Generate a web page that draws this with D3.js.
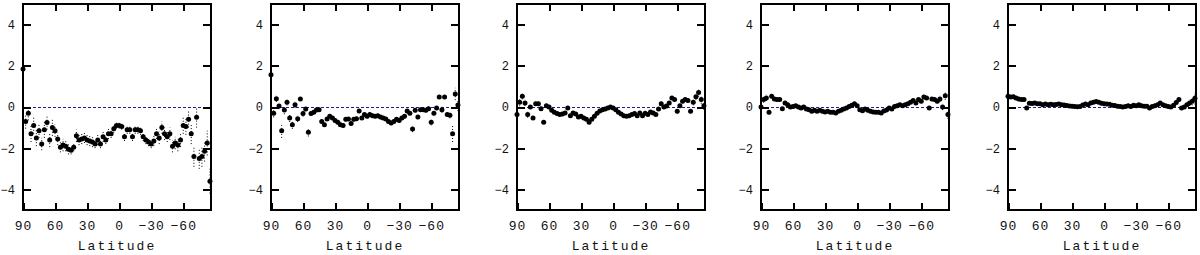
<!DOCTYPE html>
<html>
<head>
<meta charset="utf-8">
<script src="https://cdn.jsdelivr.net/npm/d3@7"></script>
<style>
  html, body { margin: 0; padding: 0; background: #fff; }
  svg { display: block; }
</style>
</head>
<body>
<svg id="chart" width="1200" height="255"></svg>
<script>
// ---------- DATA ----------
const latitudes = [
  90, 87.5, 85, 82.5, 80, 77.5, 75, 72.5, 70, 67.5,
  65, 62.5, 60, 57.5, 55, 52.5, 50, 47.5, 45, 42.5,
  40, 37.5, 35, 32.5, 30, 27.5, 25, 22.5, 20, 17.5,
  15, 12.5, 10, 7.5, 5, 2.5, 0, -2.5, -5, -7.5,
  -10, -12.5, -15, -17.5, -20, -22.5, -25, -27.5, -30, -32.5,
  -35, -37.5, -40, -42.5, -45, -47.5, -50, -52.5, -55, -57.5,
  -60, -62.5, -65, -67.5, -70, -72.5, -75, -77.5, -80, -82.5,
  -85
];

const panel1Values = [
  1.85, -0.7, -0.3, -1.3, -0.9, -1.5, -1.15, -1.8, -1.1, -0.75,
  -1.6, -1.0, -1.15, -1.55, -1.95, -1.85, -1.9, -2.05, -2.1, -1.95,
  -1.4, -1.6, -1.55, -1.5, -1.6, -1.65, -1.7, -1.8, -1.6, -1.8,
  -1.45, -1.6, -1.3, -1.3, -1.05, -0.9, -0.9, -0.95, -1.45, -1.1,
  -1.1, -1.45, -1.1, -1.1, -1.15, -1.45, -1.6, -1.7, -1.8, -1.65,
  -1.3, -1.5, -1.0, -1.3, -1.45, -1.3, -1.9, -1.75, -1.85, -1.6,
  -0.9, -0.95, -0.6, -1.3, -2.4, -0.5, -2.5, -2.4, -2.15, -1.75,
  -3.6
];
const panel1Errors = [
  0.9, 0.35, 0.35, 0.4, 0.4, 0.4, 0.35, 0.3, 0.4, 0.35,
  0.35, 0.4, 0.3, 0.3, 0.25, 0.3, 0.25, 0.25, 0.2, 0.2,
  0.3, 0.25, 0.25, 0.25, 0.25, 0.25, 0.25, 0.2, 0.25, 0.2,
  0.25, 0.2, 0.25, 0.2, 0.2, 0.15, 0.15, 0.15, 0.2, 0.2,
  0.2, 0.2, 0.2, 0.2, 0.2, 0.2, 0.2, 0.2, 0.2, 0.25,
  0.25, 0.3, 0.3, 0.3, 0.25, 0.3, 0.3, 0.3, 0.3, 0.35,
  0.4, 0.4, 0.4, 0.5, 0.5, 0.5, 0.5, 0.5, 0.5, 0.6,
  0.6
];

const panel2Values = [
  1.57, -0.3, 0.4, 0.05, -1.15, -0.15, 0.23, -0.53, -0.86, 0.11,
  -0.57, 0.39, -0.32, -0.1, -1.23, -0.32, -0.26, -0.15, -0.13, -0.7,
  -0.86, -0.58, -0.45, -0.53, -0.65, -0.74, -0.86, -0.9, -0.6, -0.58,
  -0.8, -0.6, -0.57, -0.2, -0.53, -0.37, -0.45, -0.37, -0.42, -0.45,
  -0.42, -0.49, -0.53, -0.58, -0.7, -0.78, -0.7, -0.6, -0.65, -0.53,
  -0.45, -0.2, -0.3, -1.07, -0.16, -0.49, -0.13, -0.13, -0.16, -0.08,
  -0.74, -0.3, -0.05, 0.49, -0.13, 0.49, -0.37, -0.4, -1.3, 0.63,
  0.1
];
const panel2Errors = [
  0.3, 0.2, 0.15, 0.15, 0.35, 0.2, 0.15, 0.2, 0.2, 0.15,
  0.15, 0.1, 0.15, 0.1, 0.2, 0.1, 0.1, 0.1, 0.1, 0.1,
  0.1, 0.1, 0.1, 0.1, 0.1, 0.1, 0.1, 0.1, 0.1, 0.1,
  0.1, 0.1, 0.1, 0.1, 0.1, 0.1, 0.1, 0.1, 0.1, 0.1,
  0.1, 0.1, 0.1, 0.1, 0.1, 0.1, 0.1, 0.1, 0.1, 0.1,
  0.1, 0.1, 0.1, 0.15, 0.1, 0.1, 0.1, 0.1, 0.1, 0.1,
  0.15, 0.1, 0.1, 0.1, 0.15, 0.1, 0.1, 0.15, 0.4, 0.3,
  0.3
];

const panel3Values = [
  -0.37, 0.23, 0.52, 0.2, -0.37, 0.0, -0.53, 0.16, 0.16, -0.08,
  -0.74, 0.06, 0.0, -0.16, -0.26, -0.32, -0.37, -0.34, -0.29, -0.05,
  -0.42, -0.29, -0.34, -0.49, -0.45, -0.53, -0.6, -0.74, -0.6, -0.45,
  -0.3, -0.2, -0.13, -0.1, -0.05, 0.0, -0.05, -0.13, -0.26, -0.34,
  -0.42, -0.45, -0.42, -0.37, -0.32, -0.42, -0.29, -0.42, -0.3, -0.37,
  -0.24, -0.29, -0.37, -0.1, 0.16, 0.0, 0.05, 0.2, 0.44, 0.36,
  -0.21, 0.06, 0.28, 0.36, 0.32, -0.21, 0.23, 0.5, 0.7, 0.36,
  0.06
];
const panel3Errors = [
  0.2, 0.2, 0.15, 0.15, 0.15, 0.1, 0.1, 0.1, 0.1, 0.1,
  0.08, 0.08, 0.08, 0.08, 0.08, 0.08, 0.08, 0.08, 0.08, 0.08,
  0.08, 0.08, 0.08, 0.08, 0.08, 0.08, 0.08, 0.08, 0.08, 0.08,
  0.08, 0.08, 0.08, 0.08, 0.08, 0.08, 0.08, 0.08, 0.08, 0.08,
  0.08, 0.08, 0.08, 0.08, 0.08, 0.08, 0.08, 0.08, 0.08, 0.08,
  0.08, 0.08, 0.08, 0.08, 0.1, 0.1, 0.1, 0.1, 0.1, 0.1,
  0.1, 0.1, 0.1, 0.1, 0.1, 0.1, 0.15, 0.15, 0.2, 0.2,
  0.2
];

const panel4Values = [
  0.0, 0.36, 0.44, -0.26, 0.52, 0.39, 0.36, 0.36, -0.08, 0.2,
  0.11, 0.0, 0.03, 0.06, 0.0, -0.05, 0.0, -0.1, -0.13, -0.21,
  -0.16, -0.21, -0.16, -0.21, -0.24, -0.21, -0.26, -0.26, -0.29, -0.21,
  -0.16, -0.1, -0.05, 0.03, 0.08, 0.16, 0.06, -0.13, -0.18, -0.1,
  -0.16, -0.21, -0.24, -0.26, -0.25, -0.29, -0.2, -0.15, -0.05, -0.1,
  0.03, 0.06, 0.11, 0.06, 0.11, 0.16, 0.23, 0.31, 0.2, 0.36,
  0.28, 0.49, 0.44, -0.05, 0.39, 0.36, 0.28, 0.39, 0.0, 0.55,
  -0.37
];
const panel4Errors = [
  0.2, 0.15, 0.15, 0.1, 0.1, 0.1, 0.08, 0.08, 0.08, 0.08,
  0.06, 0.06, 0.06, 0.06, 0.06, 0.06, 0.06, 0.06, 0.06, 0.06,
  0.06, 0.06, 0.06, 0.06, 0.06, 0.06, 0.06, 0.06, 0.06, 0.06,
  0.06, 0.06, 0.06, 0.06, 0.06, 0.06, 0.06, 0.06, 0.06, 0.06,
  0.06, 0.06, 0.06, 0.06, 0.06, 0.06, 0.06, 0.06, 0.06, 0.06,
  0.06, 0.06, 0.06, 0.06, 0.06, 0.06, 0.08, 0.08, 0.08, 0.08,
  0.1, 0.1, 0.1, 0.1, 0.1, 0.1, 0.1, 0.15, 0.15, 0.2,
  0.2
];

const panel5Values = [
  0.52, 0.49, 0.5, 0.44, 0.39, 0.37, 0.36, -0.05, 0.18, 0.17,
  0.2, 0.16, 0.16, 0.11, 0.14, 0.11, 0.13, 0.11, 0.12, 0.14,
  0.11, 0.1, 0.07, 0.05, 0.04, 0.03, 0.01, 0.03, 0.1, 0.14,
  0.11, 0.2, 0.23, 0.27, 0.23, 0.18, 0.16, 0.14, 0.13, 0.08,
  0.07, 0.04, 0.03, 0.0, 0.03, 0.06, 0.03, 0.08, 0.06, 0.11,
  0.06, 0.04, 0.04, -0.05, 0.03, 0.06, 0.11, 0.2, 0.11, 0.06,
  0.02, 0.0, 0.08, 0.22, 0.36, -0.05, 0.0, 0.11, 0.2, 0.28,
  0.42
];
const panel5Errors = [
  0.12, 0.1, 0.1, 0.08, 0.08, 0.06, 0.06, 0.06, 0.05, 0.05,
  0.05, 0.05, 0.05, 0.05, 0.05, 0.05, 0.05, 0.05, 0.05, 0.05,
  0.05, 0.05, 0.05, 0.05, 0.05, 0.05, 0.05, 0.05, 0.05, 0.05,
  0.05, 0.05, 0.05, 0.05, 0.05, 0.05, 0.05, 0.05, 0.05, 0.05,
  0.05, 0.05, 0.05, 0.05, 0.05, 0.05, 0.05, 0.05, 0.05, 0.05,
  0.05, 0.05, 0.05, 0.05, 0.05, 0.05, 0.05, 0.05, 0.05, 0.05,
  0.05, 0.05, 0.06, 0.08, 0.08, 0.08, 0.1, 0.1, 0.15, 0.2,
  0.3
];

const yTickValues = [4, 2, 0, -2, -4];
const xTickValues = [90, 60, 30, 0, -30, -60];
const xAxisLabel = "Latitude";

const panels = [
  { values: panel1Values, errors: panel1Errors },
  { values: panel2Values, errors: panel2Errors },
  { values: panel3Values, errors: panel3Errors },
  { values: panel4Values, errors: panel4Errors },
  { values: panel5Values, errors: panel5Errors }
];

// ---------- LAYOUT ----------
const frameLefts = [23, 271, 517, 761, 1008];
const frameW = 188;
const frameTop = 4, frameBottom = 210;
const FONT = "'Liberation Mono', 'DejaVu Sans Mono', monospace";

const svg = d3.select("#chart");

const x = d3.scaleLinear().domain([90, -86]).range([0, frameW]);
const y = d3.scaleLinear().domain([-5, 5]).range([frameBottom, frameTop]);

panels.forEach((p, i) => {
  const g = svg.append("g").attr("transform", `translate(${frameLefts[i]},0)`);

  // zero reference line
  g.append("line")
    .attr("x1", x(90)).attr("x2", x(-86))
    .attr("y1", y(0) + 0.5).attr("y2", y(0) + 0.5)
    .attr("stroke", "#1e1e90").attr("stroke-width", 1)
    .attr("shape-rendering", "crispEdges")
    .attr("stroke-dasharray", "3,2");

  const data = latitudes.map((lat, k) => ({ lat, v: p.values[k], e: p.errors[k] }));

  // dotted error bars
  g.append("g").selectAll("line").data(data).join("line")
    .attr("x1", d => x(d.lat)).attr("x2", d => x(d.lat))
    .attr("y1", d => y(d.v - d.e)).attr("y2", d => y(d.v + d.e))
    .attr("stroke", "#000").attr("stroke-width", 1)
    .attr("stroke-dasharray", "1,2");

  // points
  g.append("g").selectAll("circle").data(data).join("circle")
    .attr("cx", d => x(d.lat)).attr("cy", d => y(d.v))
    .attr("r", 2.5).attr("fill", "#000");

  // frame
  g.append("rect")
    .attr("x", 0).attr("y", frameTop)
    .attr("width", frameW).attr("height", frameBottom - frameTop)
    .attr("fill", "none").attr("stroke", "#000").attr("stroke-width", 2)
    .attr("shape-rendering", "crispEdges");

  // axes
  const styleAxis = sel => {
    sel.select(".domain").remove();
    sel.selectAll(".tick line").attr("stroke", "#000").attr("stroke-width", 2)
      .attr("shape-rendering", "crispEdges");
    sel.selectAll("text").attr("font-family", FONT).attr("font-size", 13).attr("fill", "#111");
  };

  g.append("g")
    .call(d3.axisLeft(y).tickValues(yTickValues).tickSize(-8).tickPadding(8).tickFormat(d3.format("d")))
    .call(styleAxis)
    .call(s => s.selectAll("text").attr("font-size", 12));
  g.append("g").attr("transform", `translate(${frameW},0)`)
    .call(d3.axisRight(y).tickValues(yTickValues).tickSize(-8).tickFormat(""))
    .call(styleAxis);
  g.append("g").attr("transform", `translate(0,${frameBottom})`)
    .call(d3.axisBottom(x).tickValues(xTickValues).tickSize(-7).tickPadding(11).tickFormat(d => String(d).replace("-", "\u2212")))
    .call(styleAxis)
    .call(s => s.selectAll("text").attr("letter-spacing", 1));
  g.append("g").attr("transform", `translate(0,${frameTop})`)
    .call(d3.axisTop(x).tickValues(xTickValues.filter(v => v !== 90)).tickSize(-7).tickFormat(""))
    .call(styleAxis);

  // x axis title
  g.append("text")
    .attr("x", frameW / 2).attr("y", 250)
    .attr("text-anchor", "middle")
    .attr("font-family", FONT).attr("font-size", 13)
    .attr("letter-spacing", 2)
    .attr("fill", "#111")
    .text(xAxisLabel);
});
</script>
</body>
</html>
